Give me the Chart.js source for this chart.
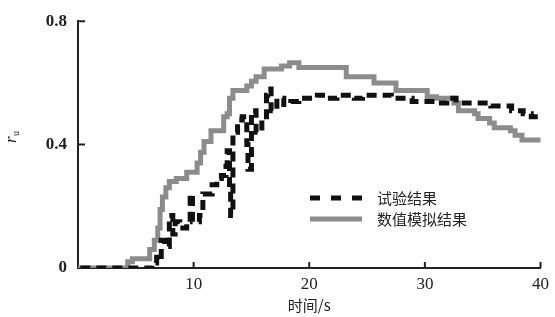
<!DOCTYPE html>
<html>
<head>
<meta charset="utf-8">
<script src="https://cdn.jsdelivr.net/npm/chart.js@4.4.0/dist/chart.umd.min.js"></script>
<style>
  body { margin: 0; background: #fff; }
</style>
</head>
<body>
<canvas id="ru-chart" width="555" height="317"></canvas>
<script>
// 数值模拟结果 (stepped)
const simX = [0, 4.3, 4.7, 6.2, 6.6, 6.9, 7.1, 7.3, 7.6, 7.9, 8.5, 9.4, 10.3, 10.6, 10.9, 11.5, 12.6, 12.9, 13.1, 13.4, 14.6, 15.0, 15.4, 16.1, 17.6, 18.3, 19.1, 23.2, 25.6, 27.5, 30.2, 31.0, 32.5, 32.9, 34.3, 34.6, 35.6, 36.0, 37.4, 37.8, 38.4, 40];
const simY = [0, 0.02, 0.03, 0.06, 0.09, 0.13, 0.19, 0.23, 0.26, 0.28, 0.29, 0.31, 0.34, 0.375, 0.41, 0.445, 0.49, 0.5, 0.55, 0.575, 0.59, 0.605, 0.62, 0.645, 0.655, 0.665, 0.65, 0.62, 0.6, 0.575, 0.555, 0.55, 0.535, 0.51, 0.5, 0.485, 0.47, 0.455, 0.445, 0.43, 0.415, 0.41];

// 试验结果
const expX = [0.2, 3.2, 5.9, 6.4, 6.8, 7.1, 7.2, 7.5, 7.9, 8.2, 8.4, 8.8, 9.4, 9.7, 9.9, 10.5, 10.8, 11.2, 11.6, 12.0, 12.4, 12.8, 12.9, 13.1, 13.2, 13.4, 13.8, 14.2, 14.6, 14.7, 15.0, 15.4, 15.9, 16.3, 16.4, 16.7, 17.2, 17.8, 18.4, 19.1, 20.0, 20.7, 21.6, 22.4, 23.9, 24.6, 26.2, 27.1, 28.9, 30.1, 31.2, 31.9, 32.7, 34.2, 35.7, 37.5, 38.5, 39.2, 39.8];
const expY = [0, 0, 0, 0.016, 0.035, 0.025, 0.09, 0.07, 0.17, 0.11, 0.15, 0.13, 0.15, 0.24, 0.15, 0.17, 0.24, 0.24, 0.27, 0.29, 0.3, 0.33, 0.38, 0.25, 0.17, 0.44, 0.48, 0.49, 0.4, 0.32, 0.51, 0.44, 0.48, 0.56, 0.58, 0.51, 0.55, 0.53, 0.54, 0.55, 0.55, 0.56, 0.55, 0.56, 0.55, 0.56, 0.56, 0.55, 0.54, 0.54, 0.535, 0.55, 0.535, 0.535, 0.525, 0.51, 0.5, 0.49, 0.48];

const xTicks = [10, 20, 30, 40];
const yTicks = [0, 0.4, 0.8];
const seriesNames = ['试验结果', '数值模拟结果'];

const toPoints = (xs, ys) => xs.map((x, i) => ({ x: x, y: ys[i] }));

// ticks point inward, drawn from the scales
const innerTicks = {
  id: 'innerTicks',
  afterDraw(chart) {
    const { ctx, scales: { x, y } } = chart;
    ctx.save();
    ctx.strokeStyle = '#222';
    ctx.lineWidth = 2;
    ctx.beginPath();
    yTicks.forEach(v => {
      if (v === 0) return;
      const py = y.getPixelForValue(v);
      ctx.moveTo(x.left, py);
      ctx.lineTo(x.left + 7, py);
    });
    xTicks.forEach(v => {
      const px = x.getPixelForValue(v);
      ctx.moveTo(px, y.bottom);
      ctx.lineTo(px, y.bottom - 6);
    });
    ctx.stroke();
    ctx.restore();
  }
};

// y title r_u, rotated, plus the legend
const extras = {
  id: 'extras',
  afterDraw(chart) {
    const { ctx, scales: { x, y } } = chart;
    ctx.save();
    ctx.translate(16, 143);
    ctx.rotate(-Math.PI / 2);
    ctx.fillStyle = '#222';
    ctx.textBaseline = 'alphabetic';
    ctx.font = 'italic 17px "Liberation Serif"';
    ctx.fillText('r', 0, 0);
    ctx.font = '10px "Liberation Serif"';
    ctx.fillText('u', 7, 3);
    ctx.restore();

    const ds = chart.data.datasets;
    const rows = [198, 219];
    ctx.save();
    ds.forEach((d, i) => {
      const ly = rows[i];
      ctx.beginPath();
      ctx.strokeStyle = d.borderColor;
      ctx.lineWidth = 5;
      ctx.setLineDash(i === 0 ? [10, 11] : []);
      ctx.moveTo(310, ly);
      ctx.lineTo(362, ly);
      ctx.stroke();
      ctx.setLineDash([]);
      ctx.fillStyle = '#222';
      ctx.font = '15px "Noto Sans CJK SC"';
      ctx.textBaseline = 'middle';
      ctx.fillText(seriesNames[i], 377, ly);
    });
    ctx.restore();
  }
};

new Chart(document.getElementById('ru-chart'), {
  type: 'line',
  data: {
    datasets: [{
      label: seriesNames[0],
      data: toPoints(expX, expY),
      borderColor: '#111',
      borderWidth: 5,
      borderDash: [10, 6],
      stepped: true,
      pointRadius: 0,
      fill: false
    }, {
      label: seriesNames[1],
      data: toPoints(simX, simY),
      borderColor: '#8c8c8c',
      borderWidth: 5,
      stepped: true,
      pointRadius: 0,
      fill: false
    }]
  },
  options: {
    responsive: false,
    animation: false,
    layout: { padding: { top: 16, right: 13, left: 0, bottom: 0 } },
    plugins: {
      legend: { display: false },
      tooltip: { enabled: false }
    },
    scales: {
      x: {
        type: 'linear',
        min: 0,
        max: 40,
        afterFit: s => { s.height = 49; },
        afterBuildTicks: s => { s.ticks = [0, ...xTicks].map(v => ({ value: v })); },
        grid: { display: true, drawOnChartArea: false, drawTicks: false },
        border: { display: true, color: '#222', width: 2 },
        ticks: {
          padding: 6,
          color: '#222',
          font: { family: '"Liberation Serif"', size: 17 },
          callback: v => (v === 0 ? '' : v)
        },
        title: {
          display: true,
          text: '时间/s',
          color: '#222',
          font: { family: '"Noto Sans CJK SC"', size: 15 },
          padding: { top: 0, bottom: 3 }
        }
      },
      y: {
        min: 0,
        max: 0.8,
        afterFit: s => { s.width = 78; },
        afterBuildTicks: s => { s.ticks = yTicks.map(v => ({ value: v })); },
        grid: { display: true, drawOnChartArea: false, drawTicks: false },
        border: { display: true, color: '#222', width: 2 },
        ticks: {
          padding: 11,
          color: '#222',
          font: { family: '"Liberation Serif"', size: 17, weight: 'bold' },
          callback: v => (v === 0 ? '0' : v.toFixed(1))
        }
      }
    }
  },
  plugins: [innerTicks, extras]
});
</script>
</body>
</html>
